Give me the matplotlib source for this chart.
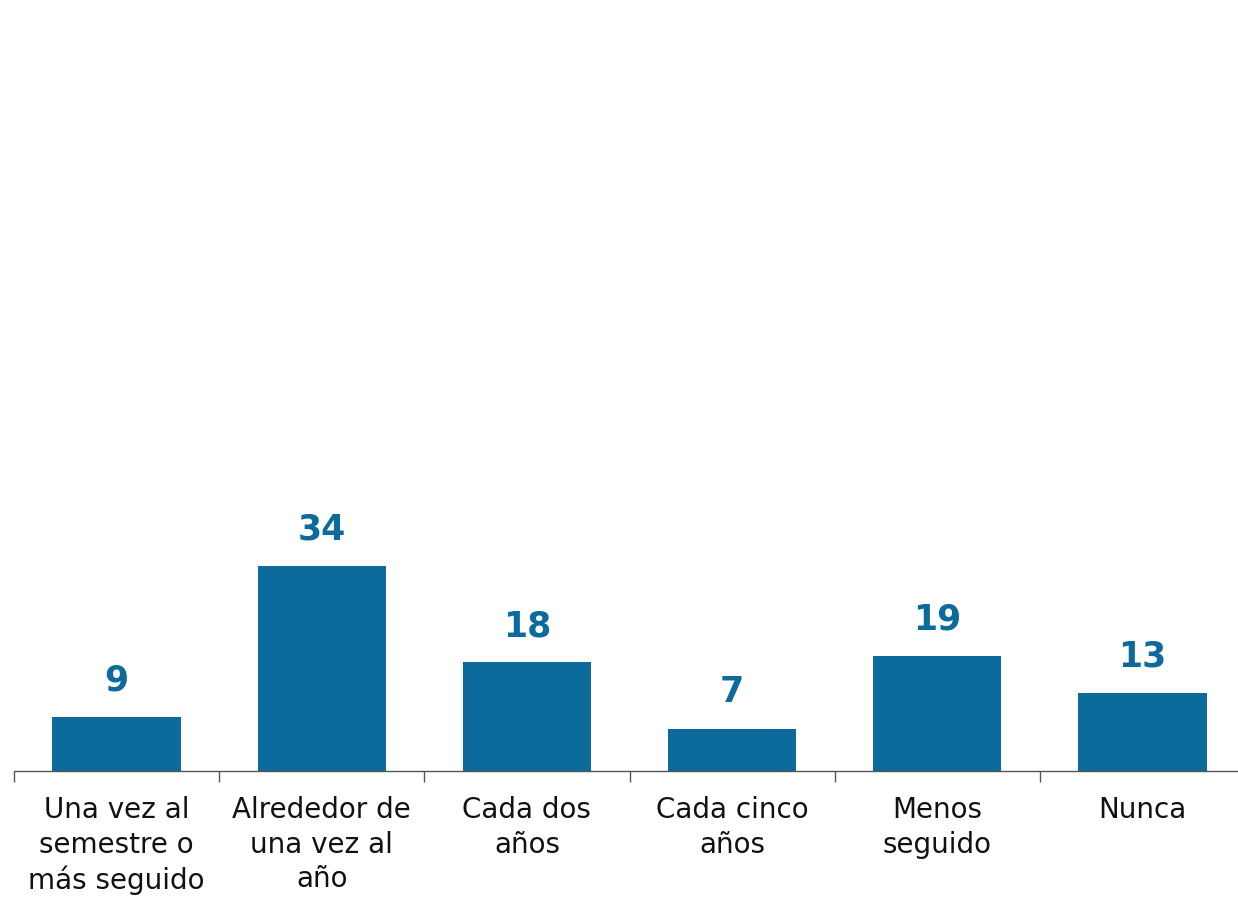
import matplotlib.pyplot as plt
import numpy as np

# Datos
categorias = ["Una vez al\nsemestre o\nmás seguido", "Alrededor de\nuna vez al\naño",
              "Cada dos\naños", "Cada cinco\naños", "Menos\nseguido", "Nunca"]
valores = [9, 34, 18, 7, 19, 13]

azul = "#0c6a9c"
plt.rcParams['font.family'] = ['DejaVu Sans']

fig = plt.figure(figsize=(12.38, 8.98), dpi=100)
ax = fig.add_axes([14 / 1238, 127 / 898, 1231 / 1238, 603 / 898])

x = np.arange(len(valores))
barras = ax.bar(x, valores, width=0.625, color=azul)

for xi, v in zip(x, valores):
    ax.annotate(str(v), (xi, v), xytext=(0, 14), textcoords="offset points",
                ha="center", va="bottom", fontsize=25, fontweight="bold", color=azul)

ax.set_xlim(-0.5, 5.5)
ax.set_ylim(0, 100)

ax.set_xticks(x)
ax.set_xticklabels(categorias, fontsize=20, linespacing=1.3, color="#111111")
ax.tick_params(axis="x", which="major", length=0, pad=18)
ax.set_xticks(np.arange(-0.5, 5.0, 1.0), minor=True)
ax.tick_params(axis="x", which="minor", length=8, color="#555555", width=1)

ax.set_yticks([])
for lado in ["top", "right", "left"]:
    ax.spines[lado].set_visible(False)
ax.spines["bottom"].set_color("#555555")
ax.spines["bottom"].set_linewidth(1)

fig.savefig("out.png", dpi=100)
